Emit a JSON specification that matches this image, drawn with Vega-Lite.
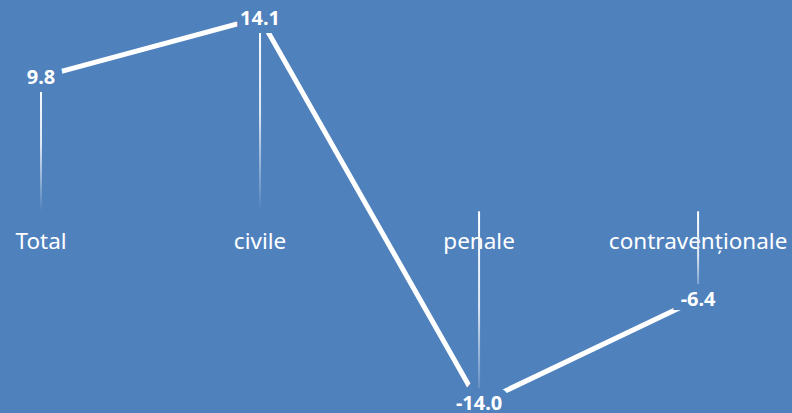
{
  "$schema": "https://vega.github.io/schema/vega-lite/v6.json",
  "width": 792,
  "height": 413,
  "padding": 0,
  "autosize": {"type": "none"},
  "background": "#4F81BD",
  "config": {"view": {"stroke": null}},
  "data": {"values": [
    {"categorie": "Total", "valoare": 9.8},
    {"categorie": "civile", "valoare": 14.1},
    {"categorie": "penale", "valoare": -14.0},
    {"categorie": "contravenționale", "valoare": -6.4}
  ]},
  "transform": [
    {"calculate": "replace(format(datum.valoare, '.1f'), '\u2212', '-')", "as": "eticheta"}
  ],
  "encoding": {
    "x": {"field": "categorie", "type": "nominal", "sort": null,
          "scale": {"type": "point", "padding": 0.308, "align": 0.304}, "axis": null},
    "y": {"field": "valoare", "type": "quantitative",
          "scale": {"domain": [-14.7, 15.4], "nice": false, "zero": false}, "axis": null}
  },
  "layer": [
    {
      "mark": {"type": "text", "font": "Noto Sans", "fontSize": 22.5, "color": "white", "baseline": "middle", "dy": 31},
      "encoding": {"y": {"datum": 0}, "text": {"field": "categorie"}}
    },
    {
      "mark": {"type": "bar", "size": 2,
               "fill": {"gradient": "linear", "x1": 0, "y1": 0, "x2": 0, "y2": 1,
                        "stops": [{"offset": 0, "color": "#ffffff"}, {"offset": 0.5, "color": "#dfe8f3"}, {"offset": 1, "color": "#4F81BD"}]}},
      "encoding": {"y2": {"datum": 0}}
    },
    {
      "mark": {"type": "line", "color": "white", "strokeWidth": 5}
    },
    {
      "mark": {"type": "text", "font": "Noto Sans", "fontSize": 20, "fontWeight": "bold",
               "fill": "#4F81BD", "stroke": "#4F81BD", "strokeWidth": 16, "baseline": "middle", "dy": 1},
      "encoding": {"text": {"field": "eticheta"}}
    },
    {
      "mark": {"type": "text", "font": "Noto Sans", "fontSize": 20, "fontWeight": "bold",
               "fill": "white", "baseline": "middle", "dy": 1},
      "encoding": {"text": {"field": "eticheta"}}
    }
  ]
}
